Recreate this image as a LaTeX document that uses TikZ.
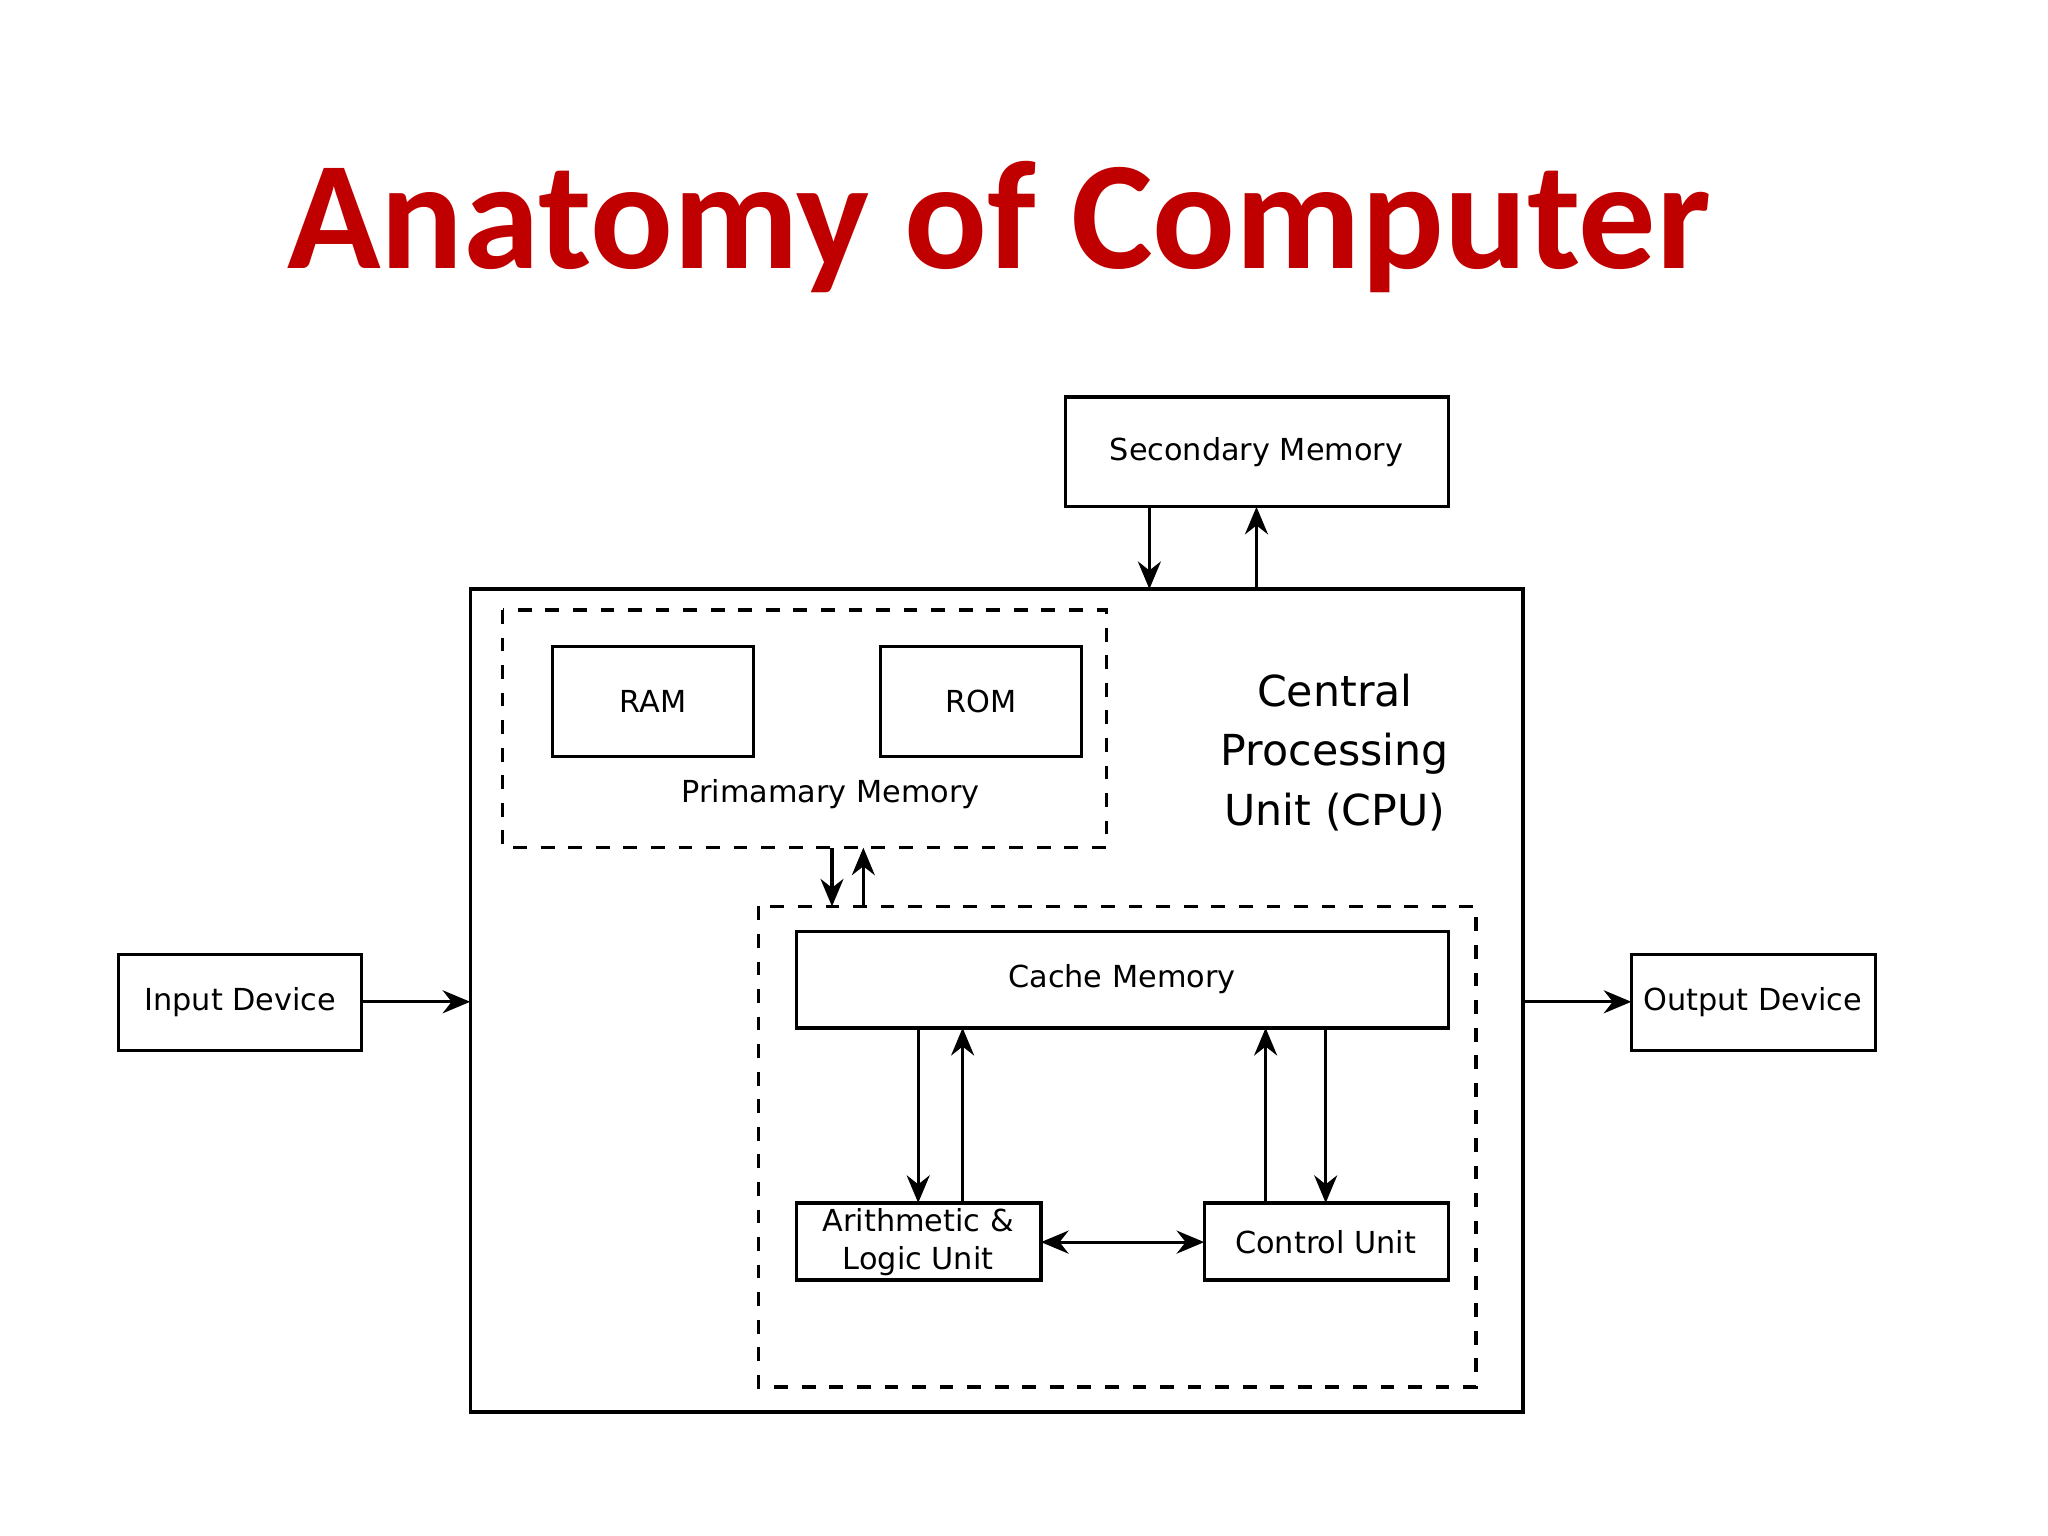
\documentclass[tikz,border=0pt]{standalone}
\usepackage{fontspec}
\setmainfont{DejaVu Sans}
\newfontfamily\titlefont{Carlito}
\usetikzlibrary{arrows.meta}
\definecolor{titlered}{RGB}{192,0,0}
\begin{document}
\begin{tikzpicture}[x=0.01cm,y=-0.01cm,
  lbl/.style={font=\fontsize{6.6}{8}\selectfont},
  arr/.style={line width=0.7pt,-{Stealth[length=6pt,width=5pt]}},
  darr/.style={line width=0.7pt,{Stealth[length=6pt,width=5pt]}-{Stealth[length=6pt,width=5pt]}}]
\useasboundingbox (0,0) rectangle (1568,1176);
\node[text=titlered,font=\titlefont\bfseries\fontsize{33.6}{38}\selectfont] (title) at (765,174) {Anatomy of Computer};
% boxes
\draw[line width=0.7pt] (816,304) rectangle (1109,388);
\node[lbl] (sec) at (962,346) {Secondary Memory};
\draw[line width=0.7pt] (360,451) rectangle (1166,1081);
\draw[dashed,line width=0.7pt] (385,467) rectangle (847,649);
\draw[line width=0.7pt] (423,495) rectangle (577,579);
\node[lbl] (ram) at (500,537) {RAM};
\draw[line width=0.7pt] (674,495) rectangle (828,579);
\node[lbl] (rom) at (751,537) {ROM};
\node[lbl] (prim) at (636,608) {Primamary Memory};
\node[align=center,font=\fontsize{9.3}{13}\selectfont] (cpu) at (1022,576) {Central\\Processing\\Unit (CPU)};
\draw[dashed,line width=0.7pt] (581,694) rectangle (1130,1062);
\draw[line width=0.7pt] (610,713) rectangle (1109,787);
\node[lbl] (cache) at (859,750) {Cache Memory};
\draw[line width=0.7pt] (610,921) rectangle (797,980);
\node[lbl,align=center,font=\fontsize{6.6}{8.4}\selectfont] (alu) at (703,951) {Arithmetic \&\\Logic Unit};
\draw[line width=0.7pt] (922,921) rectangle (1109,980);
\node[lbl] (cu) at (1015,951) {Control Unit};
\draw[line width=0.7pt] (91,731) rectangle (277,804);
\node[lbl] (in) at (184,767) {Input Device};
\draw[line width=0.7pt] (1249,731) rectangle (1436,804);
\node[lbl] (out) at (1342,767) {Output Device};
% connectors
\coordinate (s1) at (880,388); \coordinate (c1) at (880,451);
\coordinate (s2) at (962,388); \coordinate (c2) at (962,451);
\draw[arr] (s1) -- (c1);
\draw[arr] (c2) -- (s2);
\coordinate (p1) at (637,649); \coordinate (k1) at (637,694);
\coordinate (p2) at (661,649); \coordinate (k2) at (661,694);
\draw[arr] (p1) -- (k1);
\draw[arr] (k2) -- (p2);
\draw[arr] (703,787) -- (703,921);
\draw[arr] (737,921) -- (737,787);
\draw[arr] (969,921) -- (969,787);
\draw[arr] (1015,787) -- (1015,921);
\draw[darr] (797,951) -- (922,951);
\draw[arr] (277,767) -- (360,767);
\draw[arr] (1166,767) -- (1249,767);
\end{tikzpicture}
\end{document}
